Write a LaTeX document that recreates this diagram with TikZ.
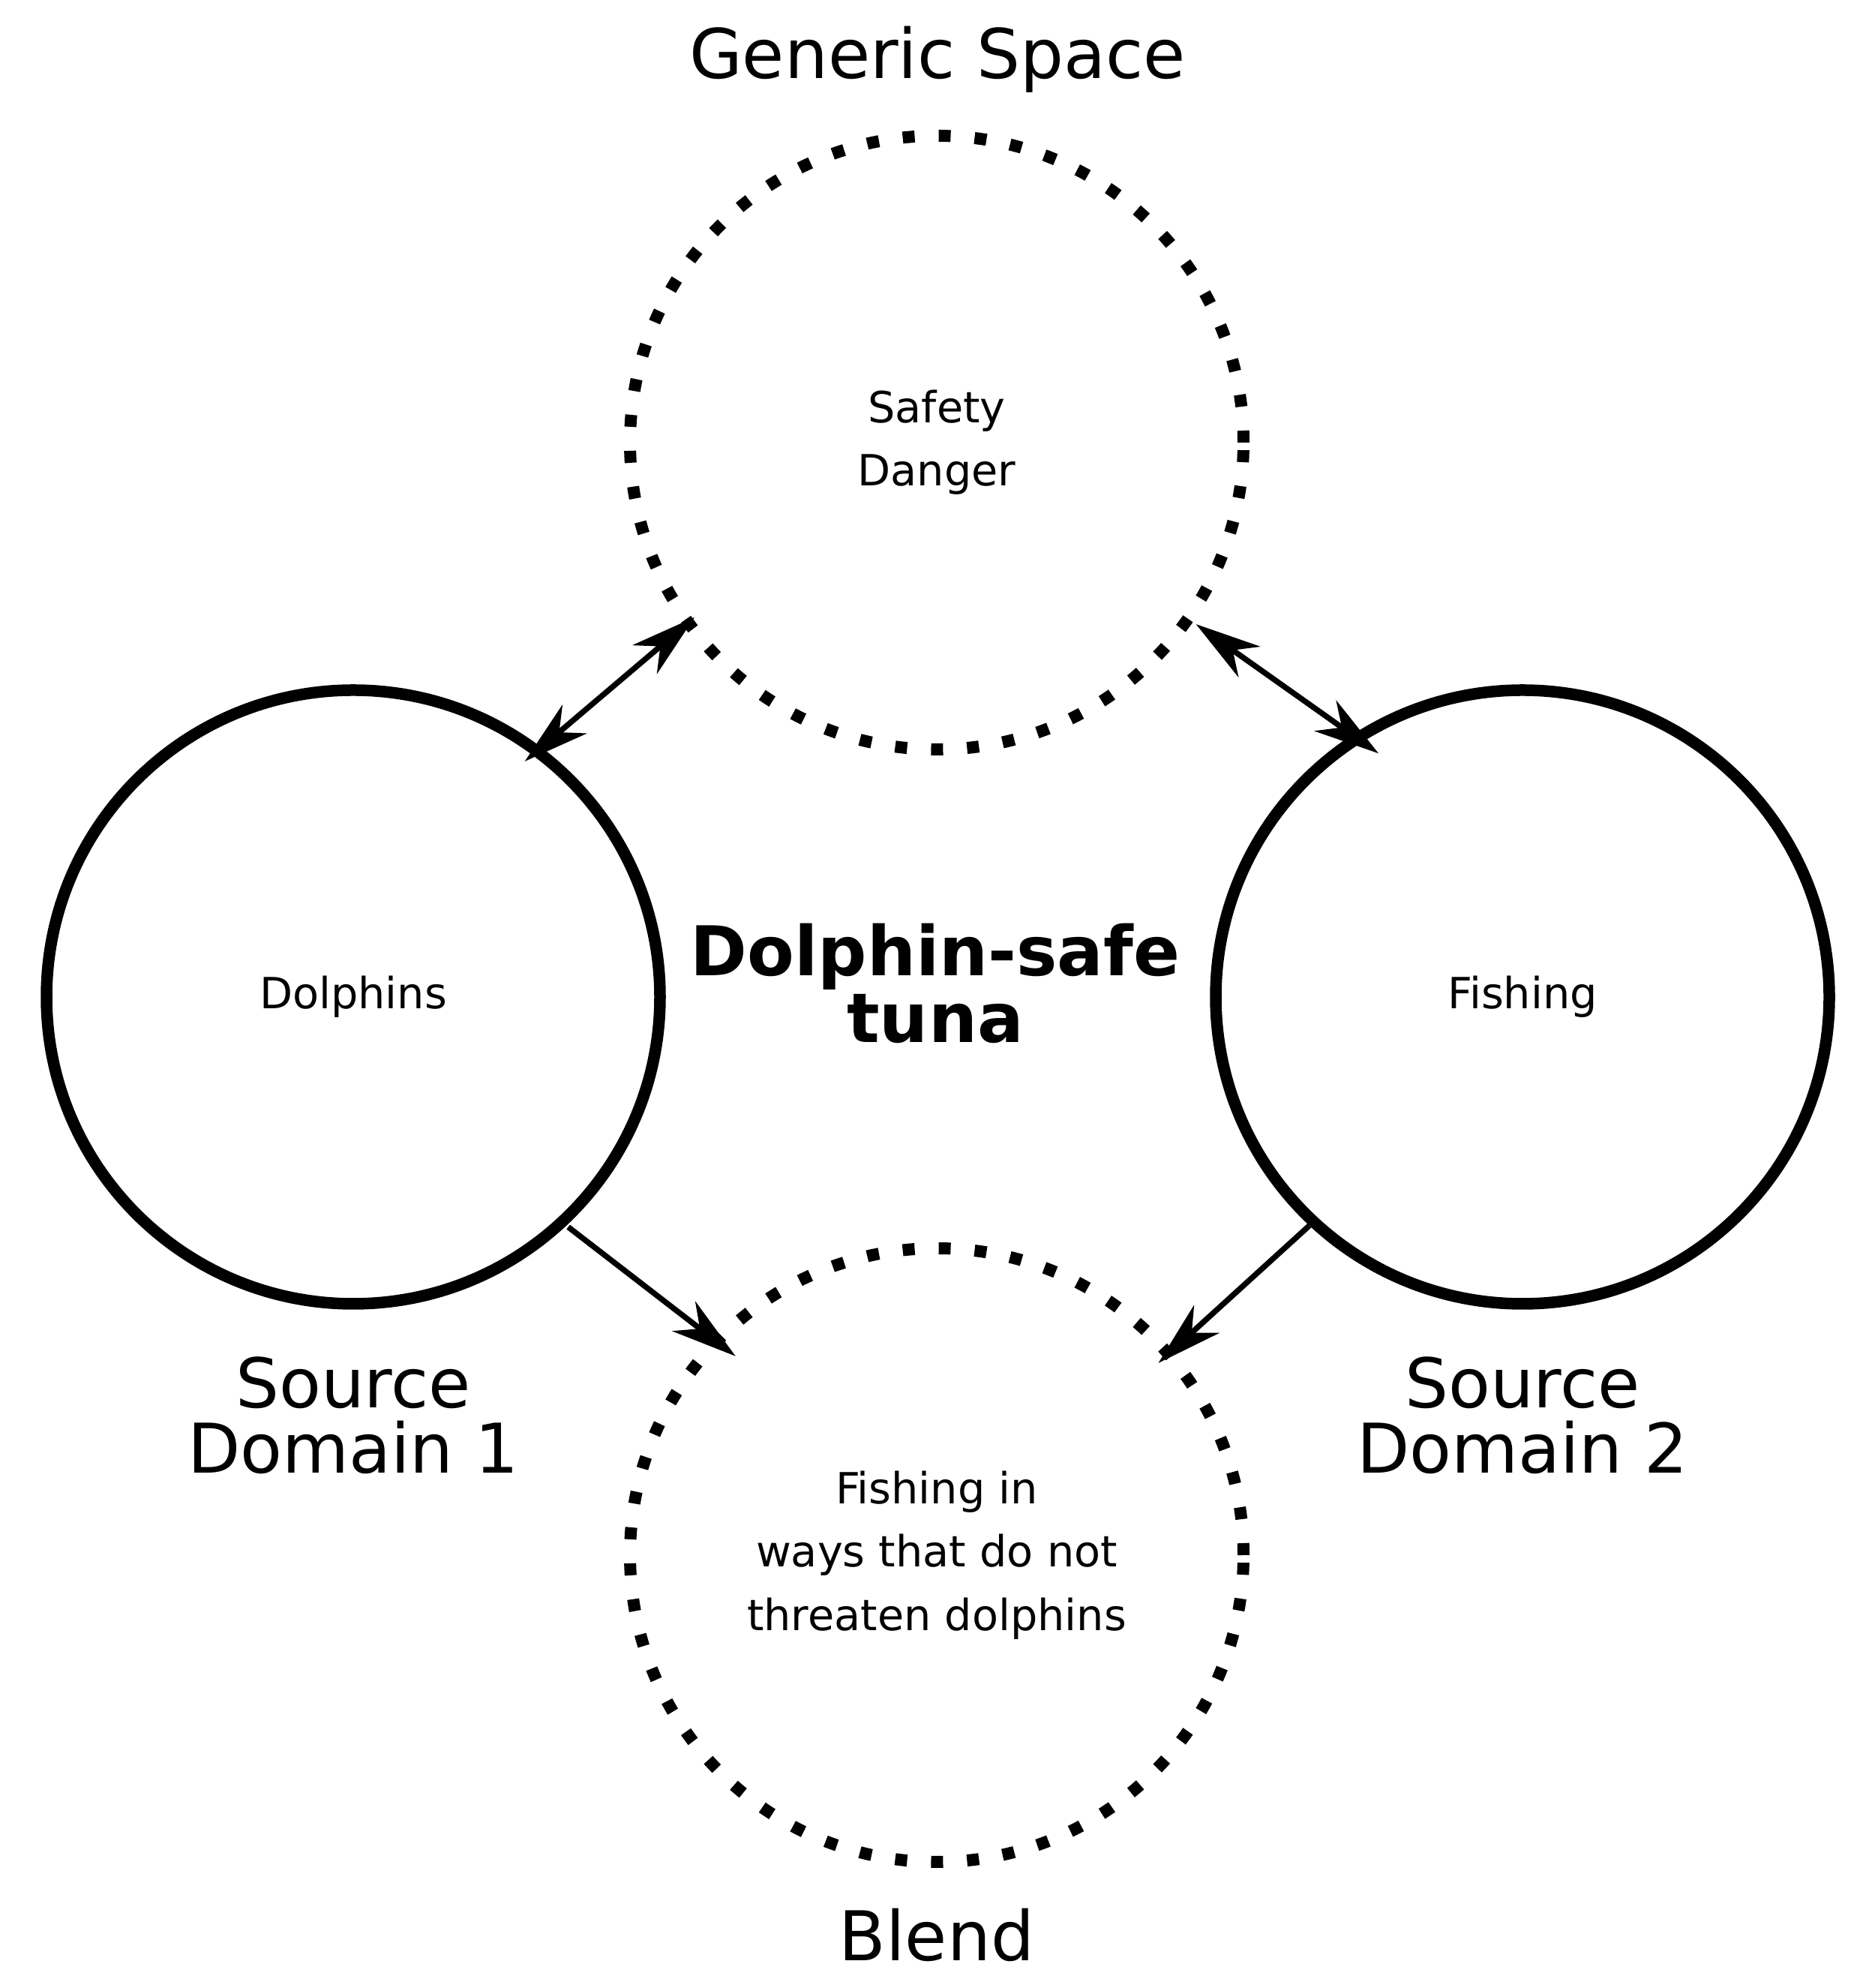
\documentclass[tikz,border=0pt]{standalone}
\usepackage{fontspec}
\setmainfont{DejaVu Sans}
\usetikzlibrary{arrows.meta}
\tikzset{
  domainv/.style={circle,draw,line width=0.155cm,minimum size=8.18cm,inner sep=0pt},
  spacev/.style={circle,draw,line width=0.16cm,dash pattern=on 0.16cm off 0.32cm,minimum size=8.18cm,inner sep=0pt},
  intext/.style={align=center,font=\fontsize{16.3}{24}\selectfont},
  bigtext/.style={align=center,anchor=base,font=\fontsize{26}{25}\selectfont},
  link/.style={line width=0.075cm}
}

\begin{document}
\begin{tikzpicture}[x=1cm,y=1cm,>={Stealth[length=8.7mm,width=5mm,inset=2.7mm]}]
  \useasboundingbox (0,0) rectangle (25,26.5);
  \node[spacev,intext] (gen) at (12.49,20.60) {Safety\\Danger};
  \node[domainv,intext] (src1) at (4.71,13.21) {Dolphins};
  \node[domainv,intext] (src2) at (20.30,13.21) {Fishing};
  \node[spacev,intext] (blend) at (12.49,5.77) {Fishing in\\ways that do not\\threaten dolphins};

  \node[bigtext] (genlab) at (12.5,25.45) {Generic Space};
  \node[bigtext] (src1lab) at (4.71,6.86) {Source\\Domain 1};
  \node[bigtext] (src2lab) at (20.30,6.86) {Source\\Domain 2};
  \node[bigtext] (blendlab) at (12.49,0.37) {Blend};
  \node[bigtext,font=\fontsize{26}{25.6}\selectfont\bfseries] (title) at (12.47,12.60) {Dolphin-safe\\tuna};

  \draw[link,<->,shorten <=-0.29cm,shorten >=-0.19cm] (src1.53.5) -- (gen.216.7);
  \draw[link,<->,shorten <=0.05cm,shorten >=-0.43cm] (gen.325.6) -- (src2.123.6);
  \draw[link,->,shorten <=0.03cm,shorten >=-0.40cm] (src1.313.8) -- (blend.136.2);
  \draw[link,->,shorten >=-0.26cm] (src2.227.6) -- (blend.41.9);
\end{tikzpicture}
\end{document}
